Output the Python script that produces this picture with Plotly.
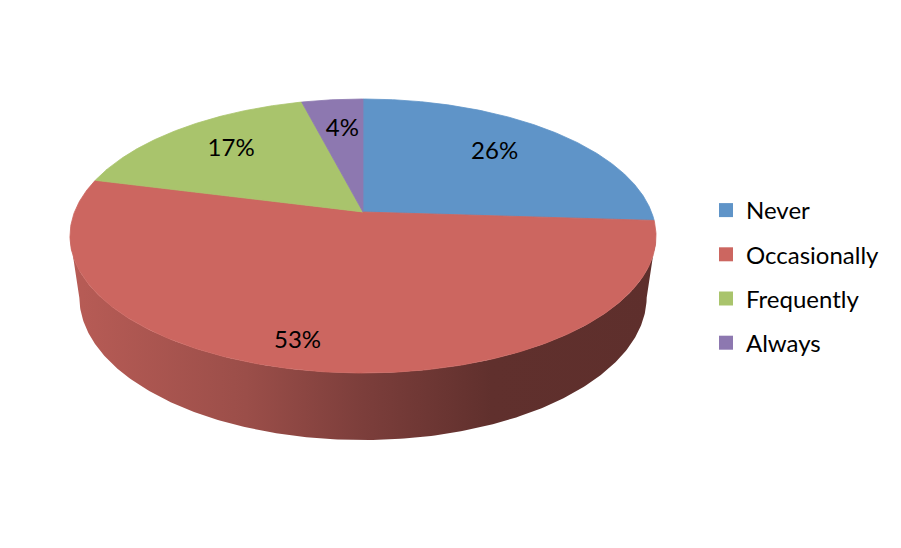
import numpy as np
import plotly.graph_objects as go

# ---------------- data ----------------
categories = ["Never", "Occasionally", "Frequently", "Always"]
values = [26, 53, 17, 4]
label_text = ["26%", "53%", "17%", "4%"]

# ---------------- style ----------------
colors = ["#5F94C8", "#CC6660", "#A9C46C", "#8D78B0"]
FONT = "Lato"
W, H = 901, 548
OFF = 8                     # page body margin of the html page
# projection of the tilted pie (pixel space of the window)
CX, CY = 363.0, 212.0      # pie centre
A, B = 288.5, 132.8        # horizontal / depth radii
K = 0.1752                 # perspective strength
DEPTH = 62.6               # thickness of the pie
M = 0.032                  # perspective shrink of the bottom
label_r = [0.69, 0.86, 0.71, 0.70]
label_dt = [-1.0, 4.0, 0.5, 0.6]


def proj(theta_deg, r=1.0, z=0.0):
    t = np.radians(theta_deg)
    u = r * np.sin(t)
    v = r * np.cos(t)
    w = 1 + K * v - M * z
    x = CX + A * u / w
    y = CY - (B * v + DEPTH * z) / w
    return x, y


def shade(hex_color, f):
    h = hex_color.lstrip("#")
    r, g, b = (int(h[i:i + 2], 16) for i in (0, 2, 4))
    return "rgb(%d,%d,%d)" % (round(r * f), round(g * f), round(b * f))


total = float(sum(values))
bounds = np.concatenate([[0.0], np.cumsum(values) / total * 360.0])

# silhouette (tangent) angles of the cylinder wall
t_right = np.degrees(np.arccos(-K))
t_left = 360.0 - t_right

fig = go.Figure()

# side walls (only the front half is visible)
for i, cat in enumerate(categories):
    a0, a1 = max(bounds[i], t_right), min(bounds[i + 1], t_left)
    if a1 <= a0:
        continue
    th = np.linspace(a0, a1, 240)
    xt, yt = proj(th, 1.0, 0.0)
    xb, yb = proj(th[::-1], 1.0, -1.0)
    xs = np.concatenate([xt, xb, xt[:1]])
    ys = np.concatenate([yt, yb, yt[:1]])
    c = colors[i]
    fig.add_trace(go.Scatter(
        x=xs, y=ys, mode="lines", fill="toself",
        line=dict(width=0, color=shade(c, 0.6)),
        fillgradient=dict(type="horizontal", colorscale=[
            [0.0, shade(c, 0.90)], [0.30, shade(c, 0.76)],
            [0.50, shade(c, 0.61)], [0.72, shade(c, 0.47)],
            [1.0, shade(c, 0.46)]]),
        hoverinfo="skip", showlegend=False))

# top face slices
for i, cat in enumerate(categories):
    th = np.linspace(bounds[i], bounds[i + 1], 300)
    xa, ya = proj(th)
    xs = np.concatenate([[CX], xa, [CX]])
    ys = np.concatenate([[CY], ya, [CY]])
    fig.add_trace(go.Scatter(
        x=xs, y=ys, mode="lines", fill="toself", fillcolor=colors[i],
        line=dict(width=0.8, color=colors[i]),
        hoverinfo="skip", showlegend=False))

# data labels
mid = (bounds[:-1] + bounds[1:]) / 2 + np.array(label_dt)
lx, ly = proj(mid, np.array(label_r), 0.0)
fig.add_trace(go.Scatter(
    x=lx, y=ly, mode="text", text=label_text,
    textfont=dict(family=FONT, size=24, color="black"),
    hoverinfo="skip", showlegend=False))

# legend entries
for i, cat in enumerate(categories):
    fig.add_trace(go.Scatter(
        x=[None], y=[None], mode="markers", name=cat, legendgroup=cat,
        marker=dict(symbol="square", size=14, color=colors[i], line=dict(width=0))))

PW, PH = W - OFF, H - OFF
fig.update_layout(
    width=PW, height=PH, autosize=False,
    margin=dict(l=0, r=0, t=0, b=0),
    paper_bgcolor="white", plot_bgcolor="white",
    xaxis=dict(range=[OFF, W], visible=False, fixedrange=True),
    yaxis=dict(range=[H, OFF], visible=False, fixedrange=True),
    legend=dict(x=(706 - OFF) / PW, y=1 - (188 - OFF) / PH,
                xanchor="left", yanchor="top",
                font=dict(family=FONT, size=24, color="black"),
                tracegroupgap=10, bgcolor="rgba(0,0,0,0)",
                itemclick=False, itemdoubleclick=False),
    hovermode=False,
)

fig.write_html("out.html")
